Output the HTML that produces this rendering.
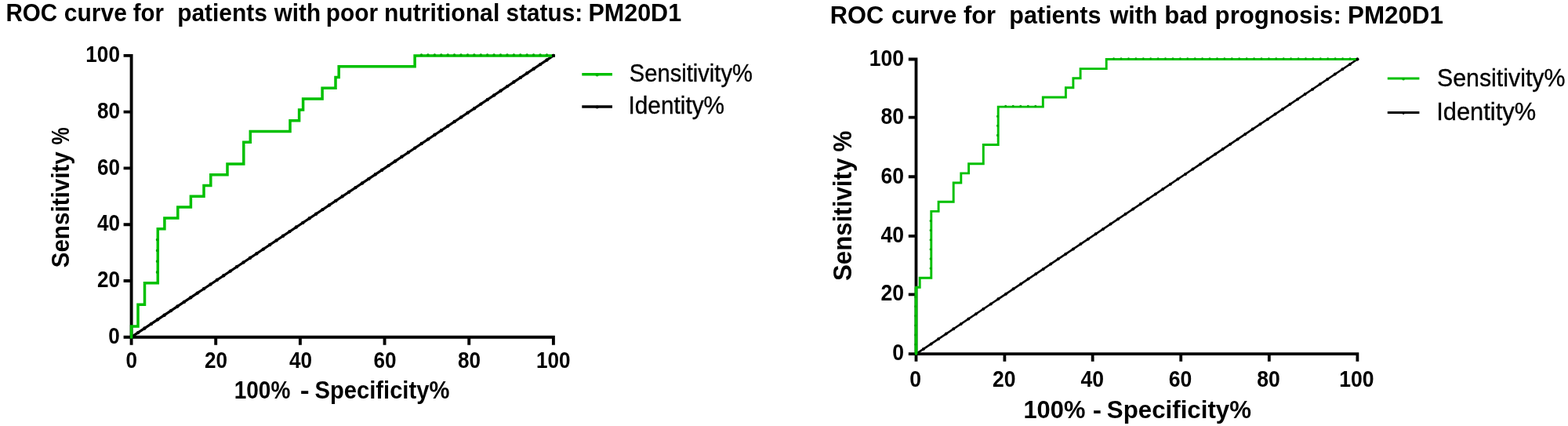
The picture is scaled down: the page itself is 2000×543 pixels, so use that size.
<!DOCTYPE html>
<html lang="en">
<head>
<meta charset="utf-8">
<title>ROC curves: PM20D1</title>
<style>
html,body{margin:0;padding:0;background:#fff;}
body{width:2000px;height:543px;overflow:hidden;}
svg{display:block;}
text{font-family:"Liberation Sans", Arial, Helvetica, sans-serif;fill:#000;}
.b{font-weight:bold;}
.r{font-weight:normal;stroke:#000;stroke-width:0.35px;}
.ax{stroke:#000;fill:none;}
</style>
</head>
<body>
<svg width="2000" height="543" viewBox="0 0 2000 543">
<rect x="0" y="0" width="2000" height="543" fill="#fff"/>
<g id="chart-left">
<path d="M167.6,68.95 V439.7 M157.6,429.7 H707.85 M157.6,357.94 H167.6 M275.22,429.7 V439.7 M157.6,286.18 H167.6 M382.89,429.7 V439.7 M157.6,214.42 H167.6 M490.56,429.7 V439.7 M157.6,142.66 H167.6 M598.23,429.7 V439.7 M157.6,70.90 H167.6 M705.90,429.7 V439.7" class="ax" stroke-width="3.9"/>
<text transform="translate(138.33,438.00) scale(0.913,1)" class="b" font-size="28.6">0</text>
<text transform="translate(160.45,468.70) scale(0.913,1)" class="b" font-size="28.6">0</text>
<text transform="translate(123.95,366.18) scale(0.913,1)" class="b" font-size="28.6">20</text>
<text transform="translate(261.04,468.70) scale(0.913,1)" class="b" font-size="28.6">20</text>
<text transform="translate(123.95,294.36) scale(0.913,1)" class="b" font-size="28.6">40</text>
<text transform="translate(368.94,468.70) scale(0.913,1)" class="b" font-size="28.6">40</text>
<text transform="translate(123.95,222.54) scale(0.913,1)" class="b" font-size="28.6">60</text>
<text transform="translate(476.38,468.70) scale(0.913,1)" class="b" font-size="28.6">60</text>
<text transform="translate(123.95,150.72) scale(0.913,1)" class="b" font-size="28.6">80</text>
<text transform="translate(584.05,468.70) scale(0.913,1)" class="b" font-size="28.6">80</text>
<text transform="translate(109.35,78.90) scale(0.913,1)" class="b" font-size="28.6">100</text>
<text transform="translate(684.07,468.70) scale(0.913,1)" class="b" font-size="28.6">100</text>
<path d="M167.6,429.7 L705.9,70.9" stroke="#000" stroke-width="3.2" fill="none" stroke-linecap="round"/>
<path d="M167.6,429.7h0M176.0,424.1h0M184.4,418.5h0M192.8,412.9h0M201.2,407.3h0M209.6,401.7h0M218.0,396.1h0M226.4,390.5h0M234.8,384.9h0M243.3,379.2h0M251.7,373.6h0M260.1,368.0h0M268.5,362.4h0M276.9,356.8h0M285.3,351.2h0M293.7,345.6h0M302.1,340.0h0M310.5,334.4h0M319.0,328.8h0M327.4,323.2h0M335.8,317.6h0M344.2,312.0h0M352.6,306.4h0M361.0,300.8h0M369.4,295.1h0M377.8,289.5h0M386.3,283.9h0M394.7,278.3h0M403.1,272.7h0M411.5,267.1h0M419.9,261.5h0M428.3,255.9h0M436.7,250.3h0M445.1,244.7h0M453.5,239.1h0M462.0,233.5h0M470.4,227.9h0M478.8,222.3h0M487.2,216.7h0M495.6,211.1h0M504.0,205.5h0M512.4,199.8h0M520.8,194.2h0M529.3,188.6h0M537.7,183.0h0M546.1,177.4h0M554.5,171.8h0M562.9,166.2h0M571.3,160.6h0M579.7,155.0h0M588.1,149.4h0M596.5,143.8h0M605.0,138.2h0M613.4,132.6h0M621.8,127.0h0M630.2,121.4h0M638.6,115.8h0M647.0,110.1h0M655.4,104.5h0M663.8,98.9h0M672.3,93.3h0M680.7,87.7h0M689.1,82.1h0M697.5,76.5h0M705.9,70.9h0" stroke="#000" stroke-width="4.4" stroke-linecap="round" fill="none"/>
<path d="M167.6,429.7 L167.6,415.9 L176.0,415.9 L176.0,388.3 L184.5,388.3 L184.5,360.7 L201.3,360.7 L201.3,291.7 L209.9,291.7 L209.9,277.9 L226.8,277.9 L226.8,264.1 L243.4,264.1 L243.4,250.3 L260.0,250.3 L260.0,236.5 L268.8,236.5 L268.8,222.7 L290.0,222.7 L290.0,208.9 L310.8,208.9 L310.8,181.3 L319.3,181.3 L319.3,167.5 L370.0,167.5 L370.0,153.7 L381.6,153.7 L381.6,139.9 L386.6,139.9 L386.6,126.1 L411.1,126.1 L411.1,112.3 L428.0,112.3 L428.0,98.5 L432.2,98.5 L432.2,84.7 L529.1,84.7 L529.1,70.9 L705.9,70.9" stroke="#00c000" stroke-width="3.5" fill="none" stroke-linejoin="miter" stroke-linecap="square"/>
<path d="M200.6,346.9h0M200.6,333.1h0M200.6,319.3h0M200.6,305.5h0M537.5,70.2h0M545.9,70.2h0M554.4,70.2h0M562.8,70.2h0M571.2,70.2h0M579.6,70.2h0M588.0,70.2h0M596.5,70.2h0M604.9,70.2h0M613.3,70.2h0M621.7,70.2h0M630.1,70.2h0M638.5,70.2h0M647.0,70.2h0M655.4,70.2h0M663.8,70.2h0M672.2,70.2h0M680.6,70.2h0M689.1,70.2h0M697.5,70.2h0" stroke="#00a800" stroke-width="3.7" stroke-linecap="round" fill="none"/>
<circle cx="705.9" cy="70.9" r="2.2" fill="#000"/>
<text y="27.40" class="b" font-size="30.5" xml:space="preserve"><tspan x="7.46" textLength="65.70" lengthAdjust="spacingAndGlyphs">ROC</tspan> <tspan x="81.87" textLength="80.05" lengthAdjust="spacingAndGlyphs">curve</tspan> <tspan x="169.72" textLength="39.29" lengthAdjust="spacingAndGlyphs">for</tspan>  <tspan x="226.14" textLength="114.83" lengthAdjust="spacingAndGlyphs">patients</tspan> <tspan x="349.70" textLength="59.35" lengthAdjust="spacingAndGlyphs">with</tspan> <tspan x="415.74" textLength="66.36" lengthAdjust="spacingAndGlyphs">poor</tspan> <tspan x="489.92" textLength="147.35" lengthAdjust="spacingAndGlyphs">nutritional</tspan> <tspan x="645.62" textLength="97.50" lengthAdjust="spacingAndGlyphs">status:</tspan> <tspan x="750.40" textLength="118.74" lengthAdjust="spacingAndGlyphs">PM20D1</tspan></text>
<text y="508.10" class="b" font-size="30.8" xml:space="preserve"><tspan x="298.68" textLength="71.73" lengthAdjust="spacingAndGlyphs">100%</tspan>  <tspan x="382.85" textLength="11.92" lengthAdjust="spacingAndGlyphs">-</tspan> <tspan x="401.45" textLength="171.94" lengthAdjust="spacingAndGlyphs">Specificity%</tspan></text>
<text y="103.70" class="r" font-size="31.3" xml:space="preserve"><tspan x="802.80" textLength="157.13" lengthAdjust="spacingAndGlyphs">Sensitivity%</tspan></text>
<text y="145.20" class="r" font-size="31.3" xml:space="preserve"><tspan x="801.54" textLength="122.53" lengthAdjust="spacingAndGlyphs">Identity%</tspan></text>
<text transform="translate(88.20,0) rotate(-90)" class="b" font-size="31.0" xml:space="preserve"><tspan x="-341.36" y="0" textLength="148.15" lengthAdjust="spacingAndGlyphs">Sensitivity</tspan> <tspan x="-184.50" y="0" textLength="22.17" lengthAdjust="spacingAndGlyphs">%</tspan></text>
<path d="M742.3,94.8 H781.0" stroke="#00c000" stroke-width="3.4" fill="none"/>
<path d="M742.3,136.0 H781.0" stroke="#000" stroke-width="3.4" fill="none"/>
<circle cx="761.6" cy="95.4" r="2.00" fill="#00b400"/>
<circle cx="761.6" cy="136.6" r="2.00" fill="#000"/>
</g>
<g id="chart-right">
<path d="M1168.5,73.60 V460.8 M1158.8,451.1 H1733.30 M1158.8,375.40 H1168.5 M1281.40,451.1 V460.8 M1158.8,300.95 H1168.5 M1393.66,451.1 V460.8 M1158.8,225.25 H1168.5 M1506.24,451.1 V460.8 M1158.8,149.65 H1168.5 M1618.82,451.1 V460.8 M1158.8,75.50 H1168.5 M1731.40,451.1 V460.8" class="ax" stroke-width="3.8"/>
<text transform="translate(1138.13,458.60) scale(0.903,1)" class="b" font-size="29.4">0</text>
<text transform="translate(1160.25,492.60) scale(0.903,1)" class="b" font-size="29.4">0</text>
<text transform="translate(1123.46,383.35) scale(0.903,1)" class="b" font-size="29.4">20</text>
<text transform="translate(1265.93,492.60) scale(0.903,1)" class="b" font-size="29.4">20</text>
<text transform="translate(1123.46,308.70) scale(0.903,1)" class="b" font-size="29.4">40</text>
<text transform="translate(1378.41,492.60) scale(0.903,1)" class="b" font-size="29.4">40</text>
<text transform="translate(1123.46,233.65) scale(0.903,1)" class="b" font-size="29.4">60</text>
<text transform="translate(1490.77,492.60) scale(0.903,1)" class="b" font-size="29.4">60</text>
<text transform="translate(1123.46,157.85) scale(0.903,1)" class="b" font-size="29.4">80</text>
<text transform="translate(1603.35,492.60) scale(0.903,1)" class="b" font-size="29.4">80</text>
<text transform="translate(1108.78,83.70) scale(0.903,1)" class="b" font-size="29.4">100</text>
<text transform="translate(1708.25,492.60) scale(0.903,1)" class="b" font-size="29.4">100</text>
<path d="M1168.5,451.1 L1731.4,75.5" stroke="#000" stroke-width="2.6" fill="none" stroke-linecap="round"/>
<path d="M1168.5,451.1h0M1178.0,444.7h0M1187.6,438.4h0M1197.1,432.0h0M1206.7,425.6h0M1216.2,419.3h0M1225.7,412.9h0M1235.3,406.5h0M1244.8,400.2h0M1254.4,393.8h0M1263.9,387.4h0M1273.4,381.1h0M1283.0,374.7h0M1292.5,368.3h0M1302.1,362.0h0M1311.6,355.6h0M1321.2,349.2h0M1330.7,342.9h0M1340.2,336.5h0M1349.8,330.1h0M1359.3,323.8h0M1368.9,317.4h0M1378.4,311.0h0M1387.9,304.7h0M1397.5,298.3h0M1407.0,291.9h0M1416.6,285.6h0M1426.1,279.2h0M1435.6,272.8h0M1445.2,266.5h0M1454.7,260.1h0M1464.3,253.8h0M1473.8,247.4h0M1483.3,241.0h0M1492.9,234.7h0M1502.4,228.3h0M1512.0,221.9h0M1521.5,215.6h0M1531.0,209.2h0M1540.6,202.8h0M1550.1,196.5h0M1559.7,190.1h0M1569.2,183.7h0M1578.7,177.4h0M1588.3,171.0h0M1597.8,164.6h0M1607.4,158.3h0M1616.9,151.9h0M1626.5,145.5h0M1636.0,139.2h0M1645.5,132.8h0M1655.1,126.4h0M1664.6,120.1h0M1674.2,113.7h0M1683.7,107.3h0M1693.2,101.0h0M1702.8,94.6h0M1712.3,88.2h0M1721.9,81.9h0M1731.4,75.5h0" stroke="#000" stroke-width="4.0" stroke-linecap="round" fill="none"/>
<path d="M1168.5,451.1 L1168.5,366.3 L1173.2,366.3 L1173.2,354.2 L1187.8,354.2 L1187.8,269.4 L1197.1,269.4 L1197.1,257.2 L1216.2,257.2 L1216.2,233.0 L1225.8,233.0 L1225.8,220.9 L1235.6,220.9 L1235.6,208.8 L1254.3,208.8 L1254.3,184.5 L1273.2,184.5 L1273.2,136.1 L1330.3,136.1 L1330.3,124.0 L1359.4,124.0 L1359.4,111.8 L1368.9,111.8 L1368.9,99.7 L1378.1,99.7 L1378.1,87.6 L1411.2,87.6 L1411.2,75.5 L1731.4,75.5" stroke="#00c000" stroke-width="2.9" fill="none" stroke-linejoin="miter" stroke-linecap="square"/>
<path d="M1168.5,451.1 V366.3" stroke="#00c000" stroke-width="3.8" fill="none"/>
<path d="M1167.8,439.0h0M1167.8,426.9h0M1167.8,414.8h0M1167.8,402.6h0M1167.8,390.5h0M1167.8,378.4h0M1187.1,342.1h0M1187.1,329.9h0M1187.1,317.8h0M1187.1,305.7h0M1187.1,293.6h0M1187.1,281.5h0M1272.5,172.4h0M1272.5,160.3h0M1272.5,148.2h0M1282.7,135.4h0M1292.2,135.4h0M1301.8,135.4h0M1311.3,135.4h0M1320.8,135.4h0M1420.6,74.8h0M1430.0,74.8h0M1439.5,74.8h0M1448.9,74.8h0M1458.3,74.8h0M1467.7,74.8h0M1477.1,74.8h0M1486.5,74.8h0M1496.0,74.8h0M1505.4,74.8h0M1514.8,74.8h0M1524.2,74.8h0M1533.6,74.8h0M1543.0,74.8h0M1552.5,74.8h0M1561.9,74.8h0M1571.3,74.8h0M1580.7,74.8h0M1590.1,74.8h0M1599.6,74.8h0M1609.0,74.8h0M1618.4,74.8h0M1627.8,74.8h0M1637.2,74.8h0M1646.6,74.8h0M1656.1,74.8h0M1665.5,74.8h0M1674.9,74.8h0M1684.3,74.8h0M1693.7,74.8h0M1703.1,74.8h0M1712.6,74.8h0M1722.0,74.8h0" stroke="#00a800" stroke-width="3.1" stroke-linecap="round" fill="none"/>
<circle cx="1731.4" cy="75.5" r="2.0" fill="#000"/>
<text y="29.50" class="b" font-size="32.0" xml:space="preserve"><tspan x="1058.83" textLength="68.50" lengthAdjust="spacingAndGlyphs">ROC</tspan> <tspan x="1136.88" textLength="83.44" lengthAdjust="spacingAndGlyphs">curve</tspan> <tspan x="1228.92" textLength="41.17" lengthAdjust="spacingAndGlyphs">for</tspan>  <tspan x="1287.35" textLength="117.02" lengthAdjust="spacingAndGlyphs">patients</tspan> <tspan x="1415.70" textLength="60.58" lengthAdjust="spacingAndGlyphs">with</tspan> <tspan x="1485.15" textLength="55.43" lengthAdjust="spacingAndGlyphs">bad</tspan> <tspan x="1549.61" textLength="161.19" lengthAdjust="spacingAndGlyphs">prognosis:</tspan> <tspan x="1719.00" textLength="121.93" lengthAdjust="spacingAndGlyphs">PM20D1</tspan></text>
<text y="533.20" class="b" font-size="32.1" xml:space="preserve"><tspan x="1305.48" textLength="78.89" lengthAdjust="spacingAndGlyphs">100%</tspan> <tspan x="1393.88" textLength="11.27" lengthAdjust="spacingAndGlyphs">-</tspan> <tspan x="1411.83" textLength="184.23" lengthAdjust="spacingAndGlyphs">Specificity%</tspan></text>
<text y="110.40" class="r" font-size="32.0" xml:space="preserve"><tspan x="1832.98" textLength="163.51" lengthAdjust="spacingAndGlyphs">Sensitivity%</tspan></text>
<text y="153.20" class="r" font-size="32.0" xml:space="preserve"><tspan x="1832.21" textLength="126.88" lengthAdjust="spacingAndGlyphs">Identity%</tspan></text>
<text transform="translate(1085.60,0) rotate(-90)" class="b" font-size="32.4" xml:space="preserve"><tspan x="-358.01" y="0" textLength="156.29" lengthAdjust="spacingAndGlyphs">Sensitivity</tspan> <tspan x="-193.60" y="0" textLength="26.75" lengthAdjust="spacingAndGlyphs">%</tspan></text>
<path d="M1769.8,100.1 H1810.4" stroke="#00c000" stroke-width="3.0" fill="none"/>
<path d="M1769.8,143.5 H1810.4" stroke="#000" stroke-width="3.0" fill="none"/>
<circle cx="1790.1" cy="100.7" r="1.80" fill="#00b400"/>
<circle cx="1790.1" cy="144.1" r="1.80" fill="#000"/>
</g>
</svg>
</body>
</html>
